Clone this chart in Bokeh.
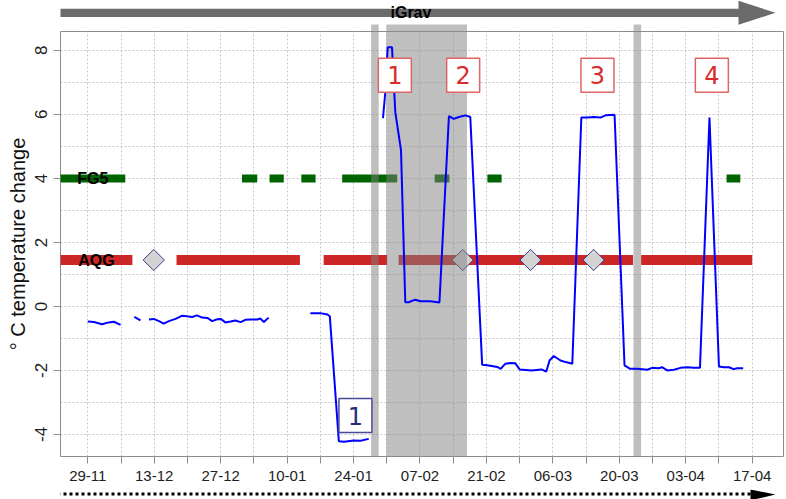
import math
from bokeh.plotting import figure
from bokeh.layouts import column
from bokeh.models import FixedTicker, Range1d
from bokeh.core.properties import value
from bokeh.embed import file_html
from bokeh.resources import INLINE

nan = float("nan")

# x axis: days since 29-11-2019
tick_days = [0, 14, 28, 42, 56, 70, 84, 98, 112, 126, 140]
tick_labels = ["29-11", "13-12", "27-12", "10-01", "24-01", "07-02",
               "21-02", "06-03", "20-03", "03-04", "17-04"]
minor_days = [7, 21, 35, 49, 63, 77, 91, 105, 119, 133]
y_ticks = [-4, -2, 0, 2, 4, 6, 8]
y_tick_labels = ["-4", "-2", "0", "2", "4", "6", "8"]
y_minor = [-3, -1, 1, 3, 5, 7]

# temperature change (blue line), NaN = gap
temp_day = [0.0, 1.3, 3.0, 4.4, 5.5, 6.9, nan,
            9.8, 11.1, nan,
            12.9, 13.9, 15.0, 16.0, 17.1, 18.5, 19.9, 20.9, 22.0, 23.0, 24.1, 25.2,
            26.2, 27.3, 28.0, 29.0, 30.1, 31.1, 32.2, 33.2, 34.3, 35.7, 36.4, 37.1, 38.1, nan,
            46.9, 49.0, 50.5, 51.0, 52.9, 54.0, 56.0, 57.5, 59.2, nan,
            62.2, 62.7, 63.2, 64.1, 64.8, 66.0, 66.9, 67.6, 69.0, 70.1, 72.2, 74.1,
            76.1, 77.1, 78.2, 79.6, 80.6, 83.1, 84.2, 86.3, 87.0, 88.0, 89.1, 90.1,
            91.0, 93.5, 95.6, 96.6, 97.3, 98.2, 99.6, 100.7, 102.1, 104.0, 105.2,
            106.6, 108.0, 109.1, 111.0, 113.1, 114.3, 115.8, 117.9, 118.9, 120.3,
            121.0, 122.1, 123.5, 124.9, 126.3, 127.7, 129.0, 131.0, 133.0, 134.0,
            135.1, 136.1, 136.8, 138.1]
temp_val = [-0.47, -0.49, -0.56, -0.50, -0.48, -0.58, nan,
            -0.33, -0.44, nan,
            -0.41, -0.39, -0.46, -0.54, -0.46, -0.39, -0.29, -0.31, -0.33, -0.28, -0.35, -0.36,
            -0.46, -0.40, -0.39, -0.50, -0.47, -0.44, -0.49, -0.42, -0.41, -0.41, -0.38, -0.49, -0.35, nan,
            -0.21, -0.21, -0.25, -0.31, -4.21, -4.23, -4.19, -4.20, -4.14, nan,
            5.88, 6.70, 8.10, 8.10, 6.07, 4.88, 0.13, 0.13, 0.21, 0.16, 0.16, 0.12,
            5.95, 5.86, 5.92, 5.97, 5.92, -1.82, -1.84, -1.89, -1.95, -1.79, -1.77, -1.78,
            -1.97, -2.00, -1.97, -2.04, -1.69, -1.55, -1.69, -1.74, -1.79, 5.90, 5.90,
            5.92, 5.90, 5.97, 5.99, -1.84, -1.95, -1.95, -1.98, -1.92, -1.93,
            -1.90, -2.00, -1.98, -1.92, -1.90, -1.92, -1.92, 5.90, -1.88, -1.90,
            -1.90, -1.96, -1.93, -1.93]

# FG5 availability (green) and AQG availability (red)
fg5_level = 4.0
fg5_start = [-5.8, 32.5, 38.3, 45.0, 53.6, 73.1, 84.2, 134.6]
fg5_end = [7.9, 35.7, 41.3, 48.0, 65.2, 76.2, 87.2, 137.5]
aqg_level = 1.45
aqg_start = [-5.8, 18.7, 49.7, 65.5, 116.6]
aqg_end = [9.4, 44.7, 63.1, 114.9, 140.0]
diamond_days = [13.9, 79.0, 93.3, 106.6]

# shaded periods
shade_start = [59.7, 62.9, 115.0]
shade_end = [61.3, 79.9, 116.6]

# numbered events
event_labels = ["1", "2", "3", "4"]
event_days = [64.7, 79.1, 107.4, 131.5]
event_level = 7.22
low_labels = ["1"]
low_days = [56.4]
low_level = -3.41

series_labels = ["FG5", "AQG"]
series_label_day = [-2.2, -2.0]
series_label_level = [fg5_level, aqg_level]

W = 786
FL, FR = 60, 3                  # frame borders left/right (px)
xr = Range1d(-5.75, 146.6)      # days

grey = "#8C8C8C"
shade_color = "#7F7F7F"
shade_alpha = 0.5

# ---------------- main chart ----------------
p = figure(width=W, height=457, output_backend="svg", toolbar_location=None,
           x_range=xr, y_range=Range1d(-4.69, 8.59),
           min_border_left=FL, min_border_right=FR, min_border_top=0,
           min_border_bottom=32)
p.background_fill_color = "white"
p.border_fill_color = "white"
p.outline_line_color = grey
p.outline_line_width = 1

p.xaxis.ticker = FixedTicker(ticks=tick_days, minor_ticks=minor_days)
p.xaxis.major_label_overrides = {d: l for d, l in zip(tick_days, tick_labels)}
p.yaxis.ticker = FixedTicker(ticks=y_ticks, minor_ticks=y_minor)
p.yaxis.major_label_overrides = {d: l for d, l in zip(y_ticks, y_tick_labels)}
for ax in (p.xaxis, p.yaxis):
    ax.axis_line_color = None
    ax.major_tick_line_color = grey
    ax.major_tick_out = 7
    ax.major_tick_in = 0
    ax.major_label_text_font = "Liberation Sans"
    ax.major_label_text_color = "#222222"
p.xaxis.major_label_text_font_size = "15px"
p.yaxis.major_label_text_font_size = "17px"
p.xaxis.major_label_standoff = 7
p.yaxis.major_label_standoff = 6
p.xaxis.minor_tick_line_color = grey
p.xaxis.minor_tick_out = 7
p.xaxis.minor_tick_in = 0
p.yaxis.minor_tick_line_color = None
p.yaxis.major_label_orientation = "vertical"
p.yaxis.axis_label = "° C temperature change"
p.yaxis.axis_label_text_font = "Liberation Sans"
p.yaxis.axis_label_text_font_size = "20px"
p.yaxis.axis_label_text_font_style = "normal"
p.yaxis.axis_label_text_color = "#111111"
p.yaxis.axis_label_standoff = 4

for g in (p.xgrid, p.ygrid):
    g.grid_line_color = "#C8C8C8"
    g.grid_line_dash = "2 2"
    g.minor_grid_line_color = "#C8C8C8"
    g.minor_grid_line_dash = "2 2"

p.segment(x0=aqg_start, x1=aqg_end, y0=[aqg_level] * len(aqg_start),
          y1=[aqg_level] * len(aqg_start), line_width=10, line_color="#CD2626",
          line_cap="butt")
p.segment(x0=fg5_start, x1=fg5_end, y0=[fg5_level] * len(fg5_start),
          y1=[fg5_level] * len(fg5_start), line_width=8, line_color="#006400",
          line_cap="butt")
p.scatter(x=diamond_days, y=[aqg_level] * len(diamond_days), marker="square",
          angle=math.pi / 4, size=15, fill_color="#D3D3D3", line_color="#3A3A8C",
          line_width=1)

p.quad(left=shade_start, right=shade_end, bottom=[-10] * 3, top=[20] * 3,
       fill_color=shade_color, fill_alpha=shade_alpha, line_color=None)

p.line(temp_day, temp_val, line_width=2, line_color="#0000FF")

p.text(x=series_label_day, y=series_label_level, text=series_labels,
       text_font=value("Liberation Sans"), text_font_size="16px",
       text_font_style="bold", text_color="black", text_align="left",
       text_baseline="middle")

p.rect(x=event_days, y=[event_level] * 4, width=33, height=34,
       width_units="screen", height_units="screen", fill_color="white",
       line_color="#E06464", line_width=1.5)
p.text(x=event_days, y=[event_level] * 4, text=event_labels,
       text_font=value("DejaVu Sans"), text_font_size="24px",
       text_color="#D92B2B", text_align="center", text_baseline="middle")
p.rect(x=low_days, y=[low_level], width=33, height=34, width_units="screen",
       height_units="screen", fill_color="white", line_color="#4A4A9A",
       line_width=1.5)
p.text(x=low_days, y=[low_level], text=low_labels,
       text_font=value("DejaVu Sans"), text_font_size="24px",
       text_color="#2B2B7A", text_align="center", text_baseline="middle")

# ---------------- top strip: iGrav arrow ----------------
top = figure(width=W, height=31, output_backend="svg", toolbar_location=None,
             x_range=xr, y_range=Range1d(31, 0),
             min_border_left=FL, min_border_right=FR, min_border_top=0,
             min_border_bottom=0, x_axis_type=None, y_axis_type=None)
top.outline_line_color = None
top.grid.visible = False
top.background_fill_color = "white"
top.border_fill_color = "white"
top.extra_x_ranges = {"px": Range1d(FL, W - FR)}
top.quad(left=shade_start, right=shade_end, bottom=[31] * 3, top=[24] * 3,
         fill_color=shade_color, fill_alpha=shade_alpha, line_color=None)
top.patch([46, 738, 738, 775, 738, 738, 46], [8.3, 8.3, 0.3, 12.3, 24.3, 16.5, 16.5],
          x_range_name="px", fill_color="#6B6B6B", line_color=None)
top.text(x=[390], y=[11.5], text=["iGrav"], x_range_name="px",
         text_font=value("Liberation Sans"), text_font_size="16px",
         text_font_style="bold", text_color="black", text_align="left",
         text_baseline="middle")

# ---------------- bottom strip: dotted arrow ----------------
bot = figure(width=W, height=11, output_backend="svg", toolbar_location=None,
             x_range=Range1d(FL, W - FR), y_range=Range1d(11, 0),
             min_border_left=FL, min_border_right=FR, min_border_top=0,
             min_border_bottom=0, x_axis_type=None, y_axis_type=None)
bot.outline_line_color = None
bot.grid.visible = False
bot.background_fill_color = "white"
bot.border_fill_color = "white"
bot.line([45, 752], [4.5, 4.5], line_width=3, line_dash="3 3", line_color="black",
         line_cap="butt")
bot.patch([750, 775, 750], [0.0, 5.0, 10.8], fill_color="black", line_color=None)

layout = column(top, p, bot, spacing=0)
open("out.html", "w").write(file_html(layout, INLINE))
